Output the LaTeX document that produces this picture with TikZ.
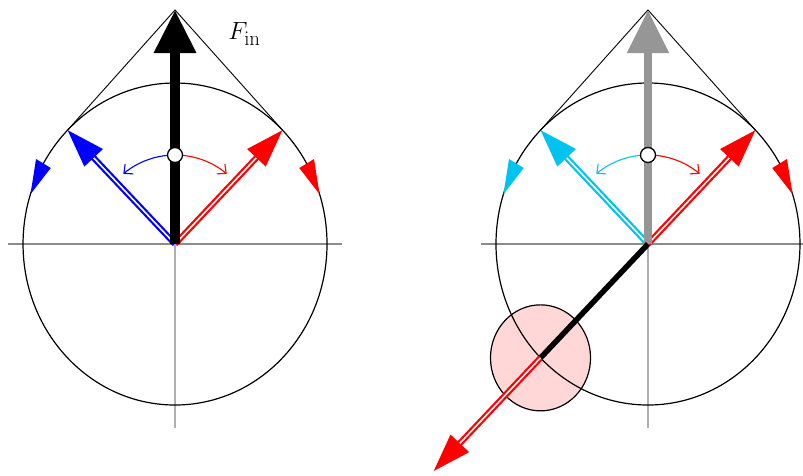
\documentclass[tikz,border=0pt]{standalone}
\usetikzlibrary{arrows.meta,calc}
\definecolor{skyc}{RGB}{0,195,240}
\definecolor{pinkf}{RGB}{255,215,215}
\definecolor{shaftgray}{RGB}{150,150,150}
\definecolor{axgray}{RGB}{140,140,140}
\definecolor{vgray}{RGB}{175,175,175}
\begin{document}
\begin{tikzpicture}[x=0.944pt,y=1pt,
  hax/.style={draw=axgray,line width=2.2pt},
  vax/.style={draw=vgray,line width=1.4pt},
  rim/.style={black,line width=1.2pt},
  tang/.style={black,line width=0.9pt},
  dbl/.style={draw=#1,line width=2.2pt,double=white,double distance=1.6pt,-{Triangle[length=38pt,width=25pt]}},
  curv/.style={draw=#1,line width=1.1pt,-{Straight Barb[length=7pt,width=13pt,line width=1.1pt]}},
  hub/.style={circle,draw=black,fill=white,line width=1.3pt,minimum size=15pt,inner sep=0pt},
  mainarrow/.style={draw=#1,line width=9.5pt,-{Triangle[length=43pt,width=40pt]}}
]
\useasboundingbox (0,0) rectangle (850.6,475);

% ---------------- left diagram ----------------
\begin{scope}[shift={(185.4,231)}]
  \coordinate (Lo) at (0,0);
  \coordinate (Ltop) at (0,234);
  \coordinate (Lr) at (45:161);
  \coordinate (Ll) at (135:161);
  \coordinate (Lh1) at (-177,0);
  \coordinate (Lh2) at (177,0);
  \coordinate (Lv) at (0,-184);
  \draw[hax] (Lh1) -- (Lh2);
  \draw[vax] (Lo) -- (Lv);
  \draw[rim] (Lo) circle[radius=161];
  \draw[tang] (Ll) -- (Ltop) -- (Lr);
  \fill[blue] (150:170) -- (150:152) -- (162:161) -- cycle;
  \fill[red] (30:170) -- (30:152) -- (18:161) -- cycle;
  \draw[dbl=blue] (Lo) -- (Ll);
  \draw[dbl=red] (Lo) -- (Lr);
  \draw[mainarrow=black] (Lo) -- (Ltop);
  \draw[curv=blue] (0,89) arc[start angle=90,end angle=128,radius=89];
  \draw[curv=red] (0,89) arc[start angle=90,end angle=52,radius=89];
  \node[hub] (Lc) at (0,89) {};
\end{scope}
\node[font=\fontsize{28}{32}\selectfont] (Fin) at (259,441) {$F_{\mathrm{in}}$};

% ---------------- right diagram ----------------
\begin{scope}[shift={(686.4,231)}]
  \coordinate (Ro) at (0,0);
  \coordinate (Rtop) at (0,234);
  \coordinate (Rr) at (45:161);
  \coordinate (Rl) at (135:161);
  \coordinate (Rh1) at (-177,0);
  \coordinate (Rh2) at (177,0);
  \coordinate (Rv) at (0,-184);
  \coordinate (P) at (225:161);
  \coordinate (Pout) at ($(P)+(225:160)$);
  \fill[pinkf] (P) circle[radius=53];
  \draw[hax] (Rh1) -- (Rh2);
  \draw[vax] (Ro) -- (Rv);
  \draw[rim] (Ro) circle[radius=161];
  \draw[black,line width=1.2pt] (P) circle[radius=53];
  \draw[tang] (Rl) -- (Rtop) -- (Rr);
  \fill[skyc] (150:170) -- (150:152) -- (162:161) -- cycle;
  \fill[red] (30:170) -- (30:152) -- (18:161) -- cycle;
  \draw[dbl=skyc] (Ro) -- (Rl);
  \draw[dbl=red] (Ro) -- (Rr);
  \draw[mainarrow=shaftgray,line width=8pt] (Ro) -- (Rtop);
  \draw[curv=skyc] (0,89) arc[start angle=90,end angle=128,radius=89];
  \draw[curv=red] (0,89) arc[start angle=90,end angle=52,radius=89];
  \node[hub] (Rc) at (0,89) {};
  \draw[black,line width=5.5pt] (Ro) -- (P);
  \draw[dbl=red] (P) -- (Pout);
\end{scope}
\end{tikzpicture}
\end{document}
